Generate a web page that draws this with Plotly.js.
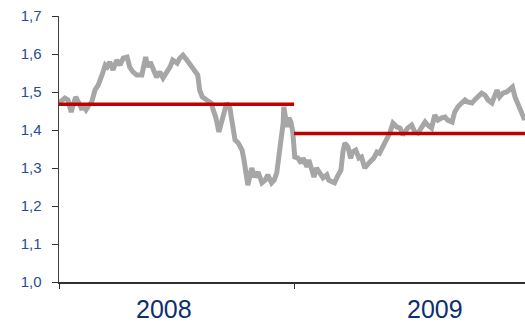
<!DOCTYPE html>
<html>
<head>
<meta charset="utf-8">
<script src="https://cdn.plot.ly/plotly-3.0.1.min.js"></script>
<style>
  html, body { margin: 0; padding: 0; background: #ffffff; }
  #chart { width: 525px; height: 323px; }
</style>
</head>
<body>
<div id="chart"></div>
<script>
// EUR/USD exchange rate, 2008–2009
const dates = [
  '2008-01-01','2008-01-10','2008-01-15','2008-01-20','2008-01-23','2008-01-27','2008-01-31',
  '2008-02-06','2008-02-07','2008-02-12','2008-02-15','2008-02-21','2008-02-26',
  '2008-03-02','2008-03-08','2008-03-13','2008-03-16','2008-03-20','2008-03-25','2008-03-31',
  '2008-04-05','2008-04-10','2008-04-16','2008-04-20','2008-04-25',
  '2008-05-01','2008-05-09','2008-05-12','2008-05-15','2008-05-18','2008-05-22','2008-05-26',
  '2008-06-01','2008-06-06','2008-06-11','2008-06-17','2008-06-22','2008-06-26',
  '2008-07-03','2008-07-07','2008-07-12','2008-07-18','2008-07-23','2008-07-28',
  '2008-08-04','2008-08-07','2008-08-11','2008-08-18','2008-08-25','2008-08-28',
  '2008-09-01','2008-09-06','2008-09-11','2008-09-15','2008-09-18','2008-09-23','2008-09-26',
  '2008-10-01','2008-10-06','2008-10-12','2008-10-15','2008-10-20','2008-10-21','2008-10-27',
  '2008-11-01','2008-11-06','2008-11-12','2008-11-17','2008-11-21','2008-11-27',
  '2008-12-01','2008-12-05','2008-12-10','2008-12-15','2008-12-16','2008-12-21','2008-12-24','2008-12-27','2008-12-30',
  '2009-01-02','2009-01-07','2009-01-12','2009-01-15','2009-01-21','2009-01-24','2009-01-29',
  '2009-02-01','2009-02-05','2009-02-10','2009-02-15','2009-02-21','2009-02-24',
  '2009-03-02','2009-03-05','2009-03-09','2009-03-15','2009-03-18','2009-03-21','2009-03-26','2009-03-30',
  '2009-04-02','2009-04-07','2009-04-12','2009-04-16','2009-04-21','2009-04-24','2009-04-29',
  '2009-05-05','2009-05-10','2009-05-14','2009-05-19','2009-05-25','2009-05-30',
  '2009-06-04','2009-06-10','2009-06-15','2009-06-19','2009-06-27',
  '2009-07-03','2009-07-08','2009-07-13','2009-07-19','2009-07-24','2009-07-28',
  '2009-08-03','2009-08-08','2009-08-13','2009-08-19','2009-08-24','2009-08-28',
  '2009-09-04','2009-09-08','2009-09-13','2009-09-19','2009-09-24','2009-09-28',
  '2009-10-05','2009-10-09','2009-10-14','2009-10-20','2009-10-25','2009-10-30',
  '2009-11-05','2009-11-09','2009-11-13','2009-11-17','2009-11-22','2009-11-28',
  '2009-12-03','2009-12-07','2009-12-11','2009-12-15','2009-12-21','2009-12-26'
];
const rates = [
  1.471,1.484,1.479,1.447,1.466,1.487,1.474,
  1.453,1.466,1.453,1.461,1.474,1.505,
  1.518,1.545,1.571,1.566,1.579,1.558,1.584,
  1.571,1.589,1.592,1.566,1.553,
  1.545,1.545,1.571,1.592,1.566,1.579,1.563,
  1.539,1.553,1.537,1.553,1.566,1.584,
  1.576,1.589,1.597,1.584,1.571,1.558,
  1.545,1.505,1.487,1.479,1.471,1.453,
  1.434,1.395,1.426,1.447,1.471,1.458,1.421,
  1.374,1.366,1.347,1.321,1.268,1.255,1.300,
  1.276,1.289,1.261,1.268,1.282,1.261,
  1.268,1.287,1.347,1.418,1.461,1.408,1.432,1.421,1.395,
  1.329,1.326,1.313,1.326,1.303,1.321,1.295,
  1.276,1.300,1.287,1.274,1.282,1.268,
  1.263,1.261,1.276,1.295,1.342,1.366,1.355,1.326,
  1.342,1.347,1.326,1.329,1.300,1.308,1.316,
  1.326,1.342,1.339,1.355,1.379,1.392,
  1.418,1.408,1.405,1.387,1.405,
  1.413,1.395,1.392,1.408,1.421,1.413,
  1.405,1.439,1.426,1.432,1.434,1.426,
  1.421,1.447,1.461,1.471,1.479,1.474,
  1.471,1.479,1.487,1.497,1.492,1.479,
  1.471,1.492,1.505,1.487,1.497,1.500,
  1.510,1.513,1.487,1.471,1.445,1.426
];

// Yearly averages
const years = ['2008', '2009'];
const yearStart = ['2008-01-01', '2009-01-01'];
const yearEnd = ['2009-01-01', '2009-12-26 12:00'];
const yearAverage = [1.468, 1.391];

const traces = [{
  type: 'scatter', mode: 'lines',
  x: dates, y: rates,
  line: { color: '#a6a6a6', width: 5 },
  hoverinfo: 'skip', showlegend: false
}];
years.forEach((yr, i) => {
  traces.push({
    type: 'scatter', mode: 'lines',
    x: [yearStart[i], yearEnd[i]],
    y: [yearAverage[i], yearAverage[i]],
    line: { color: '#c00000', width: 3.5 },
    hoverinfo: 'skip', showlegend: false
  });
});

// Year captions below the axis
const yearLabelPos = [0.2253, 0.807];
const annotations = years.map((yr, i) => ({
  text: yr, xref: 'paper', yref: 'paper',
  x: yearLabelPos[i], y: -0.1,
  yanchor: 'middle', xanchor: 'center', showarrow: false,
  font: { family: 'Liberation Sans, Arial, sans-serif', size: 25, color: '#0d2f6e' }
}));

const layout = {
  width: 525, height: 323,
  margin: { l: 59, r: 0, t: 16, b: 41 },
  paper_bgcolor: '#ffffff', plot_bgcolor: '#ffffff',
  separators: ', ',
  showlegend: false,
  xaxis: {
    type: 'date',
    range: ['2008-01-01', yearEnd[1]],
    tickvals: yearStart,
    showticklabels: false,
    ticks: 'outside', ticklen: 5, tickcolor: '#303030', tickwidth: 1,
    showgrid: false, zeroline: false,
    showline: true, linecolor: '#303030', linewidth: 1.5,
    fixedrange: true
  },
  yaxis: {
    range: [1.0, 1.7],
    tickvals: [1.0, 1.1, 1.2, 1.3, 1.4, 1.5, 1.6, 1.7],
    tickformat: '.1f',
    ticks: 'outside', ticklen: 6, tickcolor: '#303030', tickwidth: 1,
    ticklabelstandoff: 7,
    tickfont: { family: 'Liberation Sans, Arial, sans-serif', size: 15, color: '#2a4c94' },
    showgrid: false, zeroline: false,
    showline: true, linecolor: '#404040', linewidth: 1.5,
    fixedrange: true
  },
  annotations: annotations
};

Plotly.newPlot('chart', traces, layout, { staticPlot: true, displayModeBar: false });
</script>
</body>
</html>
